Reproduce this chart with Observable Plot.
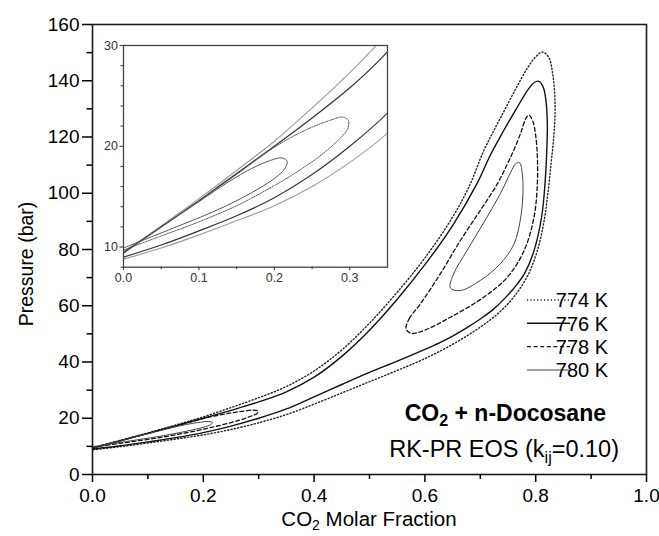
<!DOCTYPE html>
<html><head><meta charset="utf-8">
<script src="https://cdn.jsdelivr.net/npm/d3@7"></script>
<script src="https://cdn.jsdelivr.net/npm/@observablehq/plot@0.6"></script>
<style>
body{margin:0;background:#fff;}
#wrap{position:relative;width:659px;height:536px;overflow:hidden;}
#inset{position:absolute;left:92.7px;top:40px;}
</style></head><body><div id="wrap"></div>
<script>
const temps = ["774 K", "776 K", "778 K", "780 K"];

// [CO2 molar fraction, pressure (bar)]
const t774 = [[0,9.5],[0.05,12.1],[0.1,14.8],[0.15,17.6],[0.2,20.5],[0.25,23.8],[0.3,27.3],[0.35,31.3],[0.4,36.8],[0.45,44.3],[0.5,53.8],[0.55,64.8],[0.6,77.0],[0.65,91.5],[0.68,102.5],[0.706,115.0],[0.725,122.5],[0.745,130.0],[0.765,137.5],[0.785,144.5],[0.8,148.5],[0.812,150.2],[0.823,148.5],[0.831,142.0],[0.835,131.0],[0.833,121.0],[0.828,111.0],[0.822,100.0],[0.815,90.0],[0.803,79.6],[0.785,70.5],[0.76,63.0],[0.735,57.8],[0.7,52.4],[0.652,46.5],[0.6,41.2],[0.55,37.0],[0.5,33.0],[0.45,29.0],[0.4,25.0],[0.35,21.3],[0.3,18.4],[0.25,16.0],[0.2,14.1],[0.15,12.6],[0.1,11.2],[0.05,9.9],[0,8.8]];
const t776 = [[0,9.4],[0.05,12.0],[0.1,14.6],[0.15,17.3],[0.2,20.0],[0.25,22.8],[0.3,25.8],[0.35,29.4],[0.4,34.6],[0.45,42.0],[0.5,51.3],[0.55,62.3],[0.6,74.6],[0.65,88.5],[0.694,103.4],[0.718,113.5],[0.74,121.5],[0.765,130.0],[0.785,136.5],[0.797,139.3],[0.806,139.8],[0.814,137.5],[0.819,132.0],[0.821,124.0],[0.82,115.0],[0.817,104.0],[0.811,92.0],[0.797,79.6],[0.78,71.5],[0.767,67.8],[0.745,62.8],[0.724,58.8],[0.7,55.3],[0.676,52.2],[0.65,49.2],[0.628,47.0],[0.6,44.5],[0.55,40.3],[0.5,36.3],[0.45,32.0],[0.4,27.6],[0.35,23.3],[0.3,20.0],[0.25,17.2],[0.2,14.9],[0.15,13.1],[0.1,11.6],[0.05,10.2],[0,9.0]];
const t778low = [[0,9.5],[0.05,12.0],[0.1,14.6],[0.15,17.2],[0.19,19.4],[0.22,20.8],[0.25,21.9],[0.275,22.6],[0.29,22.9],[0.298,22.6],[0.297,21.7],[0.287,20.8],[0.265,19.3],[0.235,17.7],[0.2,16.1],[0.15,14.1],[0.1,12.5],[0.05,11.1],[0,9.7]];
const t778high = [[0.566,51.8],[0.572,55.5],[0.592,60.7],[0.628,71.4],[0.664,83.2],[0.7,93.9],[0.731,103.4],[0.749,110.5],[0.762,116.0],[0.774,122.0],[0.782,126.5],[0.788,127.8],[0.795,125.5],[0.8,120.5],[0.803,113.0],[0.803,103.4],[0.797,91.5],[0.779,79.6],[0.749,70.2],[0.706,63.0],[0.646,55.9],[0.598,51.2],[0.575,50.2]];
const t780low = [[0,9.5],[0.05,12.0],[0.1,14.5],[0.14,16.5],[0.17,17.8],[0.195,18.6],[0.21,18.85],[0.217,18.5],[0.213,17.7],[0.2,16.8],[0.17,15.4],[0.125,13.7],[0.08,12.3],[0.04,11.1],[0,9.9]];
const t780high = [[0.646,66.3],[0.652,71.4],[0.676,79.6],[0.712,91.5],[0.736,99.8],[0.755,107.5],[0.764,110.5],[0.771,110.8],[0.776,106.5],[0.777,100.0],[0.773,91.5],[0.761,82.0],[0.736,74.9],[0.7,69.0],[0.664,65.4]];

const xTicks = [0, 0.2, 0.4, 0.6, 0.8, 1.0];
const xMinor = [0.1, 0.3, 0.5, 0.7, 0.9];
const yTicks = [0, 20, 40, 60, 80, 100, 120, 140, 160];
const yMinor = [10, 30, 50, 70, 90, 110, 130, 150];
const insetXTicks = [0, 0.1, 0.2, 0.3];
const insetXMinor = [0.05, 0.15, 0.25];
const insetYTicks = [10, 20, 30];
const insetYMinor = [8, 12, 14, 16, 18, 22, 24, 26, 28];

const mainStyle = {
  "774 K": {stroke: "#222", strokeWidth: 1.4, strokeDasharray: "1.2,2.2"},
  "776 K": {stroke: "#111", strokeWidth: 1.4},
  "778 K": {stroke: "#111", strokeWidth: 1.3, strokeDasharray: "4,2.6"},
  "780 K": {stroke: "#444", strokeWidth: 1.0}
};
const insetStyle = {
  "774 K": {stroke: "#9a9a9a", strokeWidth: 1.1},
  "776 K": {stroke: "#333", strokeWidth: 1.2},
  "778 K": {stroke: "#555", strokeWidth: 1.0, strokeDasharray: "1.4,1.2"},
  "780 K": {stroke: "#555", strokeWidth: 1.0}
};
const series = [
  {data: t774, temp: "774 K", closed: false},
  {data: t776, temp: "776 K", closed: false},
  {data: t778low, temp: "778 K", closed: false},
  {data: t778high, temp: "778 K", closed: true},
  {data: t780low, temp: "780 K", closed: false},
  {data: t780high, temp: "780 K", closed: true}
];
const X = d => d[0], Y = d => d[1];
const fmt1 = d3.format(".1f");

function lineMarks(styleMap, clip) {
  return series.map(s => Plot.line(s.data, {
    x: X, y: Y, curve: s.closed ? "catmull-rom-closed" : "catmull-rom",
    clip, ...styleMap[s.temp]
  }));
}

const font = "'Liberation Sans', Arial, sans-serif";

const main = Plot.plot({
  width: 659, height: 536,
  marginLeft: 92, marginRight: 13, marginTop: 24, marginBottom: 62,
  x: {domain: [0, 1]},
  y: {domain: [0, 160]},
  style: {fontFamily: font, fontSize: "19px", color: "#000", background: "#fff", overflow: "visible"},
  marks: [
    ...lineMarks(mainStyle, false),
    Plot.frame({stroke: "#1a1a1a", strokeWidth: 1.6}),
    Plot.axisX(xTicks, {tickSize: 8, tickPadding: 6, tickFormat: fmt1, strokeWidth: 1.5, label: null}),
    Plot.axisX(xMinor, {tickSize: 5, tickFormat: () => "", strokeWidth: 1.5, label: null}),
    Plot.axisY(yTicks, {tickSize: 10, tickPadding: 3, strokeWidth: 1.5, label: null}),
    Plot.axisY(yMinor, {tickSize: 5.5, tickFormat: () => "", strokeWidth: 1.5, label: null})
  ]
});

const inset = Plot.plot({
  width: 299, height: 249,
  marginLeft: 30, marginRight: 5, marginTop: 5, marginBottom: 22.3,
  x: {domain: [0, 0.35]},
  y: {domain: [8, 30]},
  style: {fontFamily: font, fontSize: "12.5px", color: "#333", background: "transparent", overflow: "visible"},
  marks: [
    Plot.frame({fill: "#fff", stroke: "none"}),
    ...lineMarks(insetStyle, true),
    Plot.frame({stroke: "#444", strokeWidth: 1.3}),
    Plot.axisX(insetXTicks, {tickSize: 3.5, tickPadding: 2, tickFormat: fmt1, label: null}),
    Plot.axisX(insetXMinor, {tickSize: 2.5, tickFormat: () => "", label: null}),
    Plot.axisY(insetYTicks, {tickSize: 3.5, tickPadding: 2, label: null}),
    Plot.axisY(insetYMinor, {tickSize: 2.5, tickFormat: () => "", label: null})
  ]
});

const wrap = document.getElementById("wrap");
wrap.appendChild(main);
inset.setAttribute("id", "inset");
wrap.appendChild(inset);

const svg = d3.select(main);
const g = svg.append("g").attr("font-family", font).attr("fill", "#000");

// axis titles
const xt = g.append("text").attr("x", 369).attr("y", 526).attr("text-anchor", "middle").attr("font-size", 20.5);
xt.append("tspan").text("CO");
xt.append("tspan").text("2").attr("font-size", 14).attr("dy", 4);
xt.append("tspan").text(" Molar Fraction").attr("dy", -4);

g.append("text").attr("transform", "translate(33,264) rotate(-90)").attr("text-anchor", "middle")
  .attr("font-size", 19.5).text("Pressure (bar)");

// legend
const legY = [300, 323.3, 346.6, 370];
temps.forEach((t, i) => {
  const st = mainStyle[t];
  g.append("line").attr("x1", 527).attr("x2", 570).attr("y1", legY[i]).attr("y2", legY[i])
    .attr("stroke", st.stroke).attr("stroke-width", st.strokeWidth)
    .attr("stroke-dasharray", st.strokeDasharray || null);
  g.append("text").attr("x", 582).attr("y", legY[i]).attr("dy", "0.36em").attr("font-size", 20).text(t);
});

// annotations
const a1 = g.append("text").attr("x", 606).attr("y", 421).attr("text-anchor", "end")
  .attr("font-size", 23).attr("font-weight", "bold");
a1.append("tspan").text("CO");
a1.append("tspan").text("2").attr("font-size", 16).attr("dy", 5);
a1.append("tspan").text(" + n-Docosane").attr("dy", -5);

const a2 = g.append("text").attr("x", 619).attr("y", 457).attr("text-anchor", "end").attr("font-size", 23.5);
a2.append("tspan").text("RK-PR EOS (k");
a2.append("tspan").text("ij").attr("font-size", 16).attr("dy", 6);
a2.append("tspan").text("=0.10)").attr("dy", -6);
</script></body></html>
